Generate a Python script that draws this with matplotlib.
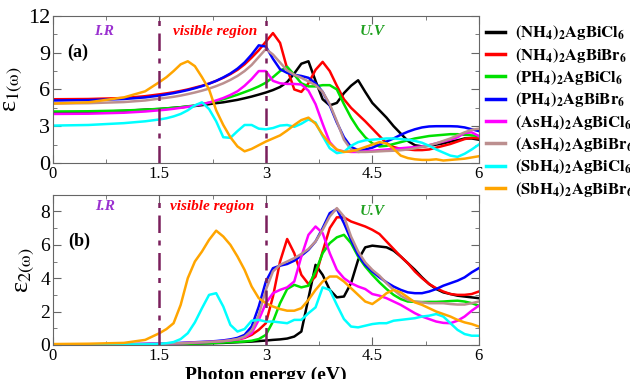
import numpy as np
import matplotlib
matplotlib.use("Agg")
import matplotlib.pyplot as plt
from matplotlib.ticker import MultipleLocator

plt.rcParams["font.family"] = "serif"
plt.rcParams["font.serif"] = ["Liberation Serif", "DejaVu Serif"]
plt.rcParams["mathtext.fontset"] = "stix"

# photon energy grid (eV)
energy = [0.0, 0.5, 1.0, 1.3,
          1.5, 1.6, 1.7, 1.8, 1.9, 2.0, 2.1, 2.2, 2.3, 2.4,
          2.5, 2.6, 2.7, 2.8, 2.9, 3.0, 3.1, 3.2, 3.3, 3.4,
          3.5, 3.6, 3.7, 3.8, 3.9, 4.0, 4.1, 4.2, 4.3, 4.4,
          4.5, 4.6, 4.7, 4.8, 4.9, 5.0, 5.1, 5.2, 5.3, 5.4,
          5.5, 5.6, 5.7, 5.8, 5.9, 6.0]

labels = [r"$\mathbf{(NH_4)_2AgBiCl_6}$", r"$\mathbf{(NH_4)_2AgBiBr_6}$",
          r"$\mathbf{(PH_4)_2AgBiCl_6}$", r"$\mathbf{(PH_4)_2AgBiBr_6}$",
          r"$\mathbf{(AsH_4)_2AgBiCl_6}$", r"$\mathbf{(AsH_4)_2AgBiBr_6}$",
          r"$\mathbf{(SbH_4)_2AgBiCl_6}$", r"$\mathbf{(SbH_4)_2AgBiBr_6}$"]
colors = ["black", "red", "#00e000", "blue", "magenta", "#bc8f8f", "cyan", "orange"]

# real part eps1
eps1_nh4_cl = [4.10, 4.15, 4.25, 4.35,
               4.40, 4.45, 4.50, 4.55, 4.60, 4.65, 4.72, 4.80, 4.88, 4.95,
               5.05, 5.15, 5.28, 5.42, 5.58, 5.75, 5.95, 6.2, 6.6, 7.3,
               8.1, 8.3, 6.7, 5.2, 4.7, 4.9, 5.7, 6.3, 6.75, 5.8,
               4.9, 4.3, 3.7, 3.0, 2.4, 1.8, 1.45, 1.35, 1.4, 1.5,
               1.6, 1.75, 1.85, 2.0, 2.0, 1.9]
eps1_nh4_br = [5.20, 5.22, 5.30, 5.45,
               5.6, 5.68, 5.77, 5.88, 6.0, 6.15, 6.3, 6.48, 6.7, 6.95,
               7.25, 7.6, 8.05, 8.6, 9.2, 9.9, 10.6, 9.8, 7.7, 6.0,
               5.8, 6.5, 7.6, 8.25, 7.5, 6.3, 5.2, 4.5, 3.95, 3.4,
               2.8, 2.2, 1.6, 1.3, 1.15, 1.1, 1.05, 1.05, 1.1, 1.25,
               1.4, 1.55, 1.75, 1.95, 2.05, 2.0]
eps1_ph4_cl = [4.20, 4.22, 4.28, 4.35,
               4.42, 4.46, 4.5, 4.55, 4.62, 4.7, 4.8, 4.92, 5.05, 5.2,
               5.38, 5.57, 5.78, 6.0, 6.25, 6.55, 7.0, 7.5, 7.85, 7.2,
               6.5, 6.25, 6.25, 6.35, 6.35, 6.0, 4.8, 3.7, 2.8, 2.1,
               1.6, 1.35, 1.4, 1.55, 1.7, 1.85, 2.0, 2.1, 2.2, 2.25,
               2.3, 2.35, 2.35, 2.3, 2.25, 2.2]
eps1_ph4_br = [5.10, 5.13, 5.22, 5.35,
               5.5, 5.6, 5.7, 5.82, 5.95, 6.1, 6.27, 6.47, 6.7, 6.98,
               7.3, 7.7, 8.2, 8.85, 9.6, 9.5, 8.5, 7.65, 7.35, 7.2,
               7.1, 6.95, 6.5, 5.8, 4.7, 3.3, 2.1, 1.3, 1.05, 1.1,
               1.25, 1.5, 1.75, 2.0, 2.3, 2.55, 2.75, 2.9, 2.98, 3.0,
               3.0, 3.0, 2.98, 2.9, 2.75, 2.6]
eps1_ash4_cl = [4.00, 4.02, 4.1, 4.2,
                4.3, 4.35, 4.42, 4.5, 4.58, 4.68, 4.8, 4.93, 5.1, 5.3,
                5.55, 5.85, 6.3, 6.85, 7.5, 7.5, 6.7, 6.5, 6.45, 6.45,
                6.4, 5.9, 4.8, 3.2, 1.7, 1.05, 0.95, 0.9, 0.9, 0.95,
                1.0, 1.05, 1.1, 1.15, 1.2, 1.25, 1.3, 1.35, 1.45, 1.6,
                1.75, 1.9, 2.1, 2.45, 2.5, 2.2]
eps1_ash4_br = [4.85, 4.88, 4.97, 5.1,
                5.25, 5.32, 5.4, 5.5, 5.62, 5.75, 5.9, 6.07, 6.27, 6.5,
                6.78, 7.1, 7.5, 8.0, 8.65, 9.3, 8.85, 8.2, 7.55, 7.2,
                6.95, 6.65, 6.35, 5.8, 4.8, 3.4, 1.9, 1.1, 0.9, 0.9,
                0.92, 0.95, 0.98, 1.0, 1.04, 1.1, 1.2, 1.3, 1.45, 1.6,
                1.8, 2.0, 2.25, 2.5, 2.7, 2.8]
eps1_sbh4_cl = [3.05, 3.1, 3.25, 3.4,
                3.55, 3.65, 3.8, 4.0, 4.3, 4.7, 4.95, 4.4, 3.4, 2.1,
                2.05, 2.6, 3.1, 3.1, 2.8, 2.75, 2.85, 3.05, 3.1, 2.95,
                3.2, 3.55, 3.3, 2.2, 1.2, 0.8, 0.9, 1.4, 1.7, 1.85,
                1.9, 1.95, 2.0, 2.0, 1.95, 1.9, 1.8, 1.65, 1.4, 1.1,
                0.85, 0.6, 0.5, 0.75, 1.1, 1.5]
eps1_sbh4_br = [4.85, 4.95, 5.35, 5.85,
                6.6, 7.0, 7.5, 8.05, 8.3, 7.9, 7.0, 6.0, 4.3, 3.1,
                2.1, 1.35, 0.95, 1.15, 1.45, 1.75, 2.0, 2.25, 2.65, 3.1,
                3.5, 3.7, 3.2, 2.3, 1.6, 1.1, 0.9, 0.95, 1.1, 1.3,
                1.5, 1.7, 1.6, 1.15, 0.6, 0.4, 0.3, 0.25, 0.25, 0.3,
                0.2, 0.25, 0.3, 0.35, 0.45, 0.55]

# imaginary part eps2
eps2_nh4_cl = [0.0, 0.0, 0.01, 0.02,
               0.03, 0.04, 0.05, 0.06, 0.07, 0.08, 0.09, 0.1, 0.11, 0.12,
               0.14, 0.16, 0.18, 0.2, 0.23, 0.26, 0.3, 0.33, 0.38, 0.5,
               0.8, 2.8, 4.8, 4.2, 3.3, 2.85, 2.9, 3.7, 5.1, 5.85,
               5.95, 5.9, 5.85, 5.65, 5.3, 4.9, 4.5, 4.05, 3.65, 3.35,
               3.15, 3.05, 2.95, 2.9, 2.85, 2.8]
eps2_nh4_br = [0.0, 0.01, 0.02, 0.04,
               0.05, 0.06, 0.07, 0.08, 0.1, 0.12, 0.14, 0.16, 0.19, 0.22,
               0.26, 0.32, 0.42, 0.6, 0.9, 1.3, 2.9, 5.0, 6.35, 5.5,
               4.2, 3.65, 4.1, 5.6, 7.0, 7.65, 7.65, 7.4, 7.25, 7.1,
               6.9, 6.65, 6.2, 5.75, 5.3, 4.9, 4.4, 4.0, 3.65, 3.4,
               3.2, 3.05, 3.0, 3.0, 3.05, 3.2]
eps2_ph4_cl = [0.0, 0.0, 0.01, 0.02,
               0.03, 0.04, 0.05, 0.06, 0.07, 0.08, 0.09, 0.1, 0.12, 0.14,
               0.16, 0.18, 0.2, 0.25, 0.35, 0.6, 1.4, 2.5, 3.35, 3.6,
               3.45, 3.55, 4.4, 5.5, 6.1, 6.45, 6.6, 6.1, 5.3, 4.7,
               4.2, 3.75, 3.35, 3.0, 2.75, 2.6, 2.58, 2.57, 2.58, 2.58,
               2.6, 2.63, 2.65, 2.6, 2.5, 2.35]
eps2_ph4_br = [0.0, 0.02, 0.04, 0.06,
               0.08, 0.09, 0.1, 0.12, 0.14, 0.16, 0.18, 0.2, 0.23, 0.27,
               0.33, 0.42, 0.6, 1.1, 2.3, 3.8, 4.6, 4.75, 4.85, 5.05,
               5.35, 5.7, 6.2, 7.0, 7.9, 8.15, 7.3, 6.3, 5.4, 4.8,
               4.4, 4.05, 3.75, 3.5, 3.3, 3.15, 3.1, 3.1, 3.2, 3.35,
               3.55, 3.7, 3.85, 4.05, 4.35, 4.6]
eps2_ash4_cl = [0.0, 0.02, 0.04, 0.05,
                0.07, 0.08, 0.09, 0.1, 0.12, 0.14, 0.16, 0.18, 0.2, 0.23,
                0.27, 0.33, 0.45, 0.7, 1.5, 2.5, 3.1, 3.3, 3.45, 3.8,
                5.3, 6.6, 7.1, 6.7, 5.5, 4.5, 4.0, 3.7, 3.5, 3.35,
                3.05, 2.95, 2.8, 2.6, 2.4, 2.15, 1.9, 1.7, 1.55, 1.4,
                1.32, 1.3, 1.45, 1.7, 2.05, 2.35]
eps2_ash4_br = [0.0, 0.02, 0.04, 0.05,
                0.07, 0.08, 0.09, 0.1, 0.12, 0.14, 0.16, 0.18, 0.2, 0.23,
                0.28, 0.35, 0.5, 0.85, 1.8, 3.3, 4.4, 4.8, 5.0, 5.2,
                5.45, 5.75, 6.2, 6.9, 7.7, 8.2, 7.7, 6.5, 5.6, 4.95,
                4.5, 4.15, 3.7, 3.3, 2.95, 2.7, 2.6, 2.55, 2.5, 2.5,
                2.5, 2.45, 2.42, 2.42, 2.5, 2.6]
eps2_sbh4_cl = [0.0, 0.01, 0.02, 0.03,
                0.06, 0.1, 0.17, 0.35, 0.7, 1.35, 2.2, 3.0, 3.1, 2.3,
                1.2, 0.8, 0.95, 1.45, 1.5, 1.4, 1.4, 1.35, 1.3, 1.5,
                1.5, 1.9, 2.25, 3.45, 3.3, 2.4, 1.55, 1.1, 1.05, 1.15,
                1.25, 1.3, 1.3, 1.45, 1.5, 1.55, 1.6, 1.7, 1.75, 1.85,
                1.7, 1.3, 0.9, 0.65, 0.55, 0.55]
eps2_sbh4_br = [0.05, 0.07, 0.12, 0.3,
                0.7, 0.95, 1.3, 2.4, 4.0, 5.0, 5.6, 6.3, 6.85, 6.5,
                6.0, 5.3, 4.5, 3.5, 2.8, 2.5, 2.3, 2.15, 2.05, 2.05,
                2.2, 2.7, 3.3, 3.8, 4.1, 4.1, 3.8, 3.4, 3.0, 2.6,
                2.45, 2.75, 3.1, 3.3, 3.15, 2.85, 2.55, 2.4, 2.2, 2.0,
                1.85, 1.7, 1.5, 1.35, 1.25, 1.1]

eps1_all = [eps1_nh4_cl, eps1_nh4_br, eps1_ph4_cl, eps1_ph4_br,
            eps1_ash4_cl, eps1_ash4_br, eps1_sbh4_cl, eps1_sbh4_br]
eps2_all = [eps2_nh4_cl, eps2_nh4_br, eps2_ph4_cl, eps2_ph4_br,
            eps2_ash4_cl, eps2_ash4_br, eps2_sbh4_cl, eps2_sbh4_br]

fig = plt.figure(figsize=(6.30, 3.79), dpi=100)
ax1 = fig.add_axes([0.084, 0.570, 0.676, 0.388])
ax2 = fig.add_axes([0.084, 0.090, 0.676, 0.396])

vline_color = "#7a1f5c"


def style_axis(ax, ymax, ymajor, yminor, yfs):
    ax.set_xlim(0, 6)
    ax.set_ylim(0, ymax)
    ax.xaxis.set_major_locator(MultipleLocator(1.5))
    ax.xaxis.set_minor_locator(MultipleLocator(0.75))
    ax.yaxis.set_major_locator(MultipleLocator(ymajor))
    ax.yaxis.set_minor_locator(MultipleLocator(yminor))
    ax.set_xticklabels(["", "0", "1.5", "3", "4.5", "6"])
    ax.tick_params(which="both", direction="in", top=True, right=True,
                   color="#666666")
    ax.tick_params(which="major", length=6)
    ax.tick_params(which="minor", length=3)
    ax.tick_params(axis="x", labelsize=12, pad=2)
    ax.tick_params(axis="y", labelsize=yfs, pad=2)
    for s in ax.spines.values():
        s.set_color("#666666")
    for xv in (1.5, 3.0):
        ax.axvline(xv, color=vline_color, lw=1.8, dashes=(7, 3, 2, 3))


for ys, c, lab in zip(eps1_all, colors, labels):
    ax1.plot(energy, ys, color=c, lw=1.8, label=lab)
for ys, c in zip(eps2_all, colors):
    ax2.plot(energy, ys, color=c, lw=1.8)

style_axis(ax1, 12, 3, 1.5, 16)
style_axis(ax2, 9, 2, 1, 14)
ax2.set_yticks([0, 2, 4, 6, 8])

txt = dict(fontsize=11, fontweight="bold", style="italic", ha="center", va="center")
ax1.text(0.72, 10.7, "I.R", color="#9a30d0", **txt)
ax1.text(2.28, 10.7, "visible region", color="red", **txt)
ax1.text(4.5, 10.7, "U.V", color="#20a020", **txt)
ax2.text(0.73, 8.3, "I.R", color="#9a30d0", **txt)
ax2.text(2.25, 8.3, "visible region", color="red", **txt)
ax2.text(4.5, 8.0, "U.V", color="#20a020", **txt)

ax1.text(0.35, 9.05, "(a)", fontsize=13, fontweight="bold", ha="center", va="center")
ax2.text(0.37, 6.2, "(b)", fontsize=13, fontweight="bold", ha="center", va="center")

ax1.set_ylabel(r"ε$_{\mathrm{1(\omega)}}$", fontsize=19, labelpad=2)
ax2.set_ylabel(r"ε$_{\mathrm{2(\omega)}}$", fontsize=19, labelpad=2)
fig.text(0.422, 0.032, "Photon energy (eV)", fontsize=14, fontweight="bold",
         ha="center", va="top")

fig.legend(loc="upper left", bbox_to_anchor=(0.772, 0.938), frameon=False,
           fontsize=12, handlelength=1.1, handletextpad=0.6,
           labelspacing=0.2, borderpad=0, borderaxespad=0)
for line in fig.legends[0].get_lines():
    line.set_linewidth(2.5)

fig.savefig("out.png", dpi=100)
